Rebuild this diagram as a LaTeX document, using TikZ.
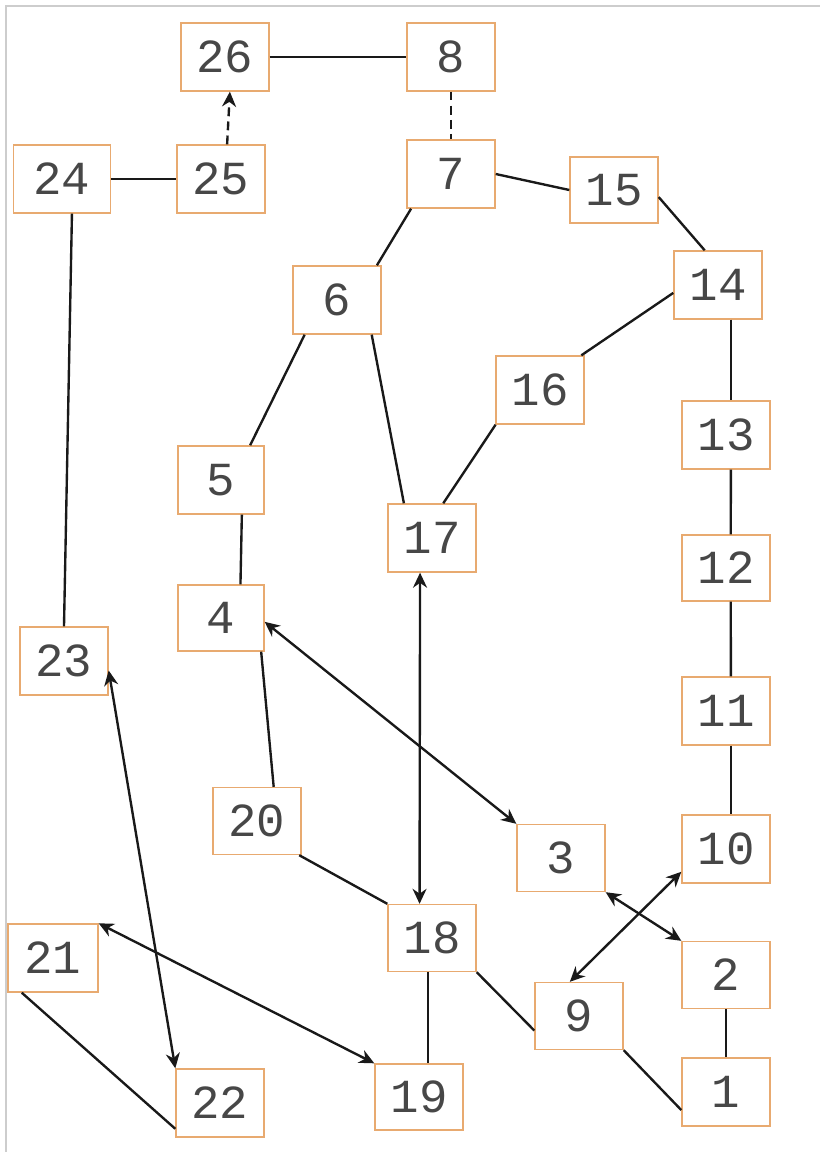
\documentclass[tikz,border=0pt]{standalone}
\usepackage{fontspec}
\usepackage{tikz}
\usetikzlibrary{arrows.meta}
\usepackage{xcolor}
\newfontfamily\boxfont{Liberation Mono}
\definecolor{boxline}{RGB}{232,170,112}
\definecolor{frameline}{RGB}{205,205,205}

\begin{document}
\begin{tikzpicture}[
      x=0.02cm, y=-0.02cm,
      box/.style={rectangle, draw=boxline, line width=0.8pt, fill=white,
                  minimum width=1.76cm, minimum height=1.36cm, inner sep=0pt,
                  font=\boxfont\fontsize{27}{30}\selectfont, text=black!72},
      link/.style={line width=1.35pt, draw=black!90},
      arr/.style={link, {Stealth[length=3mm,width=2.8mm]}-{Stealth[length=3mm,width=2.8mm]}},
      one/.style={link, -{Stealth[length=3mm,width=2.8mm]}}
    ]
    \useasboundingbox (0,0) rectangle (820,1152);
    \draw[frameline, line width=0.6pt] (6,1152) -- (6,6) -- (820,6);
    % nodes, placed at pixel positions
    \node[box] (n26) at (225,57)   {26};
    \node[box] (n8)  at (451,57)   {8};
    \node[box, minimum width=1.94cm] (n24) at (62,179) {24};
    \node[box] (n25) at (221,179)  {25};
    \node[box] (n7)  at (451,174)  {7};
    \node[box, minimum height=1.32cm] (n15) at (614,190) {15};
    \node[box] (n6)  at (337,300)  {6};
    \node[box] (n14) at (718,285)  {14};
    \node[box] (n16) at (540,390)  {16};
    \node[box, minimum width=1.72cm] (n5) at (221,480) {5};
    \node[box] (n13) at (726,435)  {13};
    \node[box] (n17) at (432,538)  {17};
    \node[box, minimum height=1.32cm] (n12) at (726,568) {12};
    \node[box, minimum width=1.72cm, minimum height=1.32cm] (n4) at (221,618) {4};
    \node[box] (n23) at (64,661)   {23};
    \node[box] (n11) at (726,711)  {11};
    \node[box, minimum height=1.34cm] (n20) at (257,821) {20};
    \node[box, minimum height=1.34cm] (n3) at (561,858) {3};
    \node[box] (n10) at (726,849)  {10};
    \node[box, minimum height=1.34cm] (n18) at (432,938) {18};
    \node[box, minimum height=1.34cm] (n2) at (726,975) {2};
    \node[box, minimum width=1.8cm] (n21) at (53,958) {21};
    \node[box, minimum height=1.34cm] (n9) at (579,1016) {9};
    \node[box] (n22) at (220,1103) {22};
    \node[box, minimum height=1.32cm] (n19) at (419,1097) {19};
    \node[box] (n1)  at (726,1092) {1};
    % top part
    \draw[link] (n26.east) -- (n8.west);
    \draw[link, dash pattern=on 5pt off 3pt] (n8.south) -- (n7.north);
    \draw[one, dash pattern=on 5pt off 3pt] (n25.80) -- (n26.-82);
    \draw[link] (n24.east) -- (n25.west);
    \draw[link] (n7.east) -- (n15.west);
    \draw[link] (n15.-9) -- (n14.111);
    \draw[link] (n7.221) -- (n6.41);
    \draw[link] (n6.227) -- (n5.50);
    \draw[link] (n6.-45) -- (n17.129);
    \draw[link] (n14.190) -- (n16.40);
    \draw[link] (n16.218) -- (n17.72);
    % right column
    \draw[link] (n13.82 |- n14.south) -- (n13.82);
    \draw[link] (n13.-82) -- (n12.82);
    \draw[link] (n12.-82) -- (n11.82);
    \draw[link] (n11.-82) -- (n10.82);
    \draw[link] (n2.south) -- (n1.north);
    % middle
    \draw[link] (n5.-59) -- (n4.60);
    \draw[link] (n4.-40) -- (n20.64);
    \draw[arr] (n4.-5) -- (n3.north west);
    \draw[arr] (n17.251) -- (n18.110);
    \draw[link] (n24.-74) -- (n23.north);
    \draw[arr] (n23.-12) -- (n22.north west);
    \draw[link] (n20.-39) -- (n18.north west);
    % bottom
    \draw[link] (n18.-97) -- (n18.-97 |- n19.north);
    \draw[link] (n18.south east) -- (n9.198);
    \draw[link] (n9.south east) -- (n1.202);
    \draw[arr] (n3.south east) -- (n2.north west);
    \draw[arr] (n9.105) -- (n10.207);
    \draw[arr] (n21.north east) -- (n19.north west);
    \draw[link] (n21.228) -- (n22.210);
  \end{tikzpicture}
\end{document}
